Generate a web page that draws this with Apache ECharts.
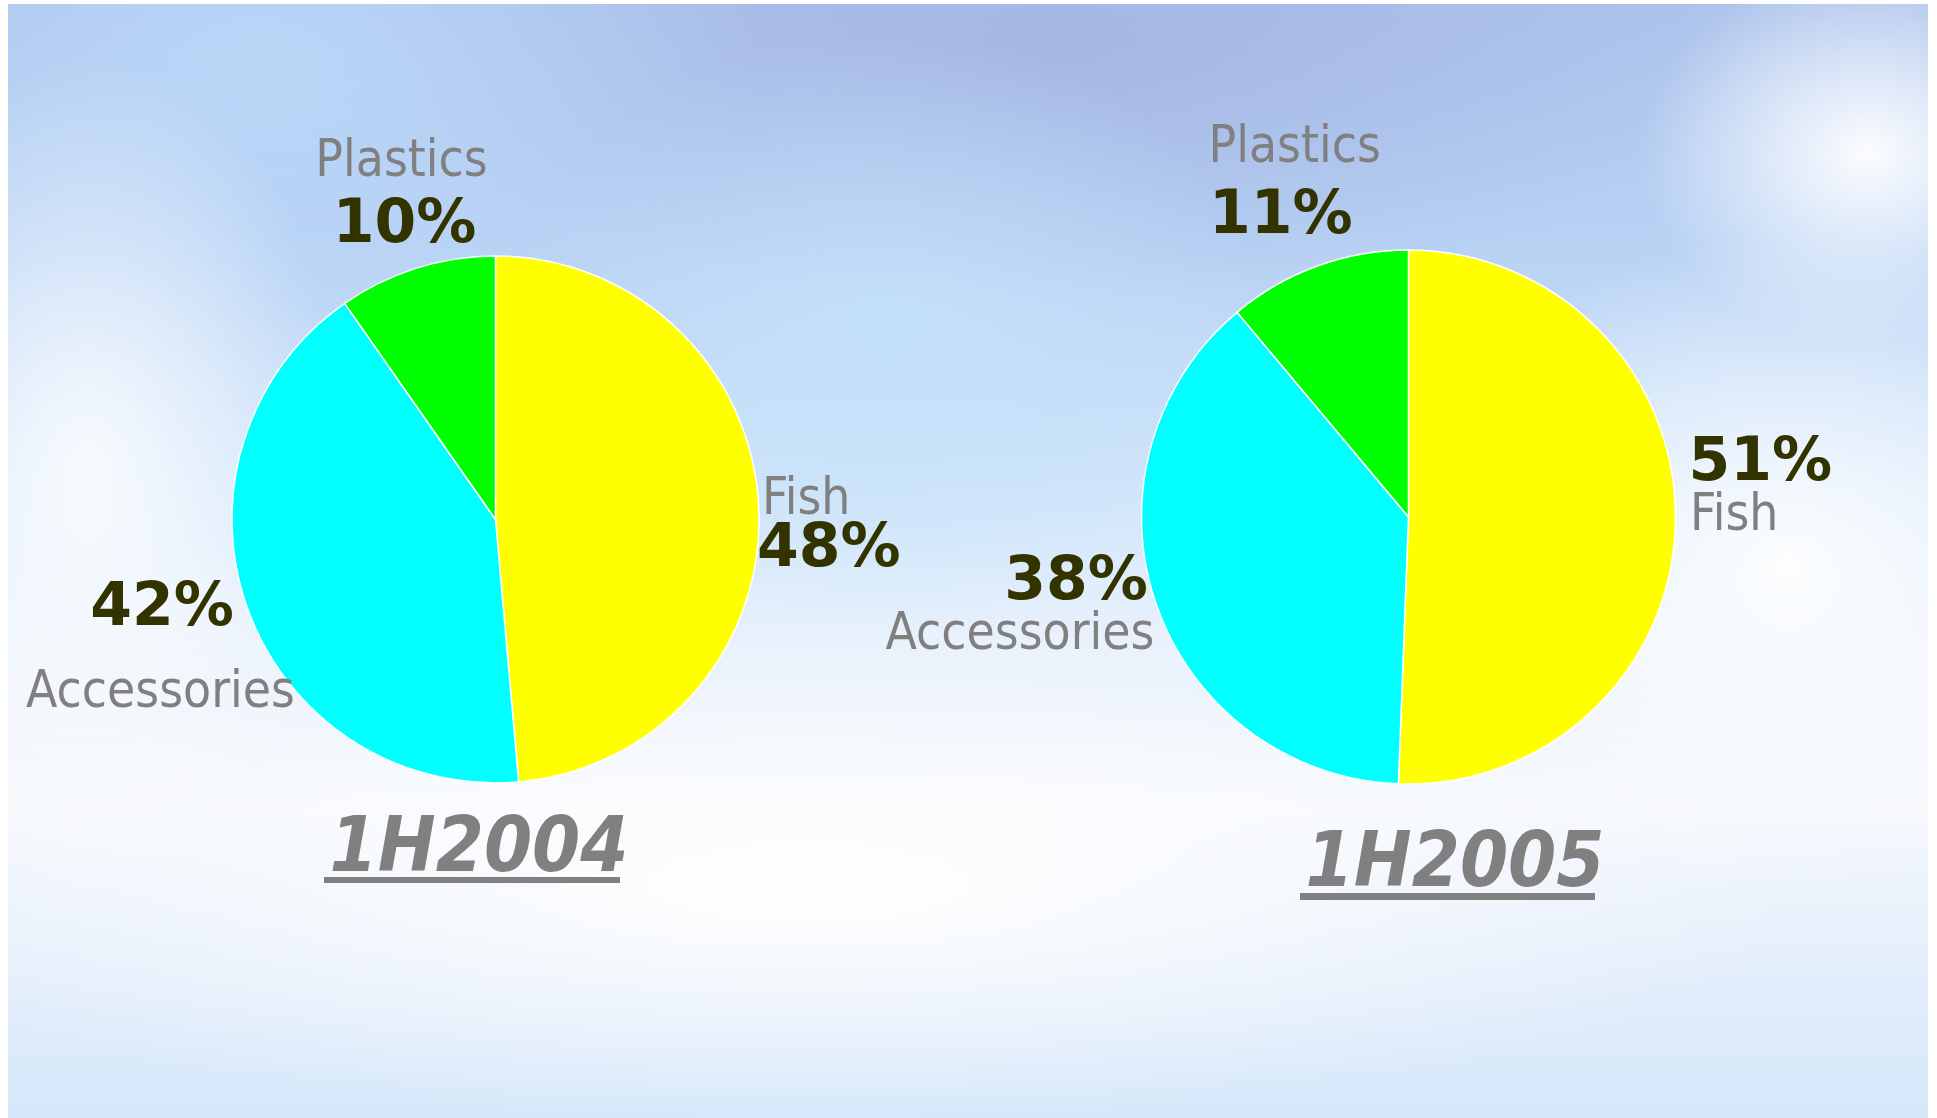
<!DOCTYPE html>
<html>
<head>
<meta charset="utf-8">
<script src="https://cdn.jsdelivr.net/npm/echarts@6/dist/echarts.min.js"></script>
<style>
html,body{margin:0;padding:0;background:#ffffff;width:1937px;height:1118px;overflow:hidden;}
#bg{position:absolute;left:8px;top:4px;width:1920px;height:1114px;
background:
 radial-gradient(ellipse 230px 190px at 1860px 150px, rgba(255,255,255,0.95), rgba(255,255,255,0) 100%),
 radial-gradient(ellipse 420px 330px at 1780px 560px, rgba(255,255,255,0.9), rgba(255,255,255,0) 100%),
 radial-gradient(ellipse 1000px 230px at 800px 890px, rgba(255,255,255,0.95), rgba(255,255,255,0) 100%),
 radial-gradient(ellipse 260px 420px at 80px 470px, rgba(255,255,255,0.85), rgba(255,255,255,0) 100%),
 radial-gradient(ellipse 500px 300px at 250px 60px, rgba(186,216,248,0.9), rgba(186,216,248,0) 100%),
 radial-gradient(ellipse 380px 300px at 880px 330px, rgba(196,226,250,0.8), rgba(196,226,250,0) 100%),
 radial-gradient(ellipse 700px 260px at 1050px 40px, rgba(160,176,224,0.7), rgba(160,176,224,0) 100%),
 linear-gradient(to bottom, #aec4ec 0%, #b8d2f4 22%, #cfe4fa 42%, #eaf2fc 58%, #f5f8fd 72%, #e4eefb 86%, #d5e7fa 100%);
}
#chart{position:absolute;left:0;top:0;width:1937px;height:1118px;}
</style>
</head>
<body>
<div id="bg"></div>
<div id="chart"></div>
<script>
// ---- data ----
const categories = ['Fish', 'Accessories', 'Plastics'];
const values2004 = [48.6, 41.7, 9.7];
const values2005 = [50.6, 38.3, 11.1];
const pctLabels2004 = ['48%', '42%', '10%'];
const pctLabels2005 = ['51%', '38%', '11%'];
const periodTitles = ['1H2004', '1H2005'];
const sliceColors = ['#ffff00', '#00ffff', '#00ff00'];

// ---- styles ----
const GRAY = '#808080';
const DARK = '#333300';
const NAME_FONT = {fontFamily: "'DejaVu Sans Condensed', 'DejaVu Sans', sans-serif", fontSize: 51, fontWeight: 'normal'};
const PCT_FONT = {fontFamily: "'DejaVu Sans', sans-serif", fontSize: 60, fontWeight: 'bold'};
const TITLE_FONT = {fontFamily: "'DejaVu Sans Condensed', 'DejaVu Sans', sans-serif", fontSize: 77, fontWeight: 'bold', fontStyle: 'italic'};

function txt(str, x, y, align, font, color) {
  return {type: 'text', x: x, y: y, silent: true, z: 10,
    style: Object.assign({text: str, fill: color, align: align, verticalAlign: 'middle'}, font)};
}

// label placement (text anchors) per period, index by category
const labelPos2004 = [
  {name: [762, 501, 'left'], pct: [757, 550, 'left']},
  {name: [160.5, 694, 'center'], pct: [162, 609, 'center']},
  {name: [401.5, 163, 'center'], pct: [404.5, 226, 'center']}
];
const labelPos2005 = [
  {name: [1690, 517, 'left'], pct: [1688.5, 464, 'left']},
  {name: [1020, 636, 'center'], pct: [1076, 583, 'center']},
  {name: [1208.5, 149, 'left'], pct: [1209, 217, 'left']}
];

const graphics = [];
function addLabels(pos, pcts) {
  categories.forEach(function (c, i) {
    const p = pos[i];
    graphics.push(txt(c, p.name[0], p.name[1], p.name[2], NAME_FONT, GRAY));
    graphics.push(txt(pcts[i], p.pct[0], p.pct[1], p.pct[2], PCT_FONT, DARK));
  });
}
addLabels(labelPos2004, pctLabels2004);
addLabels(labelPos2005, pctLabels2005);

// titles with underline
graphics.push(txt(periodTitles[0], 479, 851, 'center', TITLE_FONT, GRAY));
graphics.push({type: 'rect', silent: true, shape: {x: 324, y: 877, width: 296, height: 6}, style: {fill: GRAY}});
graphics.push(txt(periodTitles[1], 1455, 866, 'center', TITLE_FONT, GRAY));
graphics.push({type: 'rect', silent: true, shape: {x: 1300, y: 893, width: 295, height: 7}, style: {fill: GRAY}});

function pieSeries(vals, center, radius) {
  return {
    type: 'pie',
    center: center,
    radius: radius,
    startAngle: 90,
    clockwise: true,
    animation: false,
    label: {show: false},
    labelLine: {show: false},
    emphasis: {disabled: true},
    itemStyle: {borderColor: '#ffffff', borderWidth: 1.5},
    data: categories.map(function (c, i) {
      return {name: c, value: vals[i], itemStyle: {color: sliceColors[i]}};
    })
  };
}

const chart = echarts.init(document.getElementById('chart'), null, {renderer: 'canvas'});
chart.setOption({
  backgroundColor: 'transparent',
  animation: false,
  series: [
    pieSeries(values2004, [495.5, 519.5], 263.5),
    pieSeries(values2005, [1408.5, 517], 267)
  ],
  graphic: graphics
});
</script>
</body>
</html>
